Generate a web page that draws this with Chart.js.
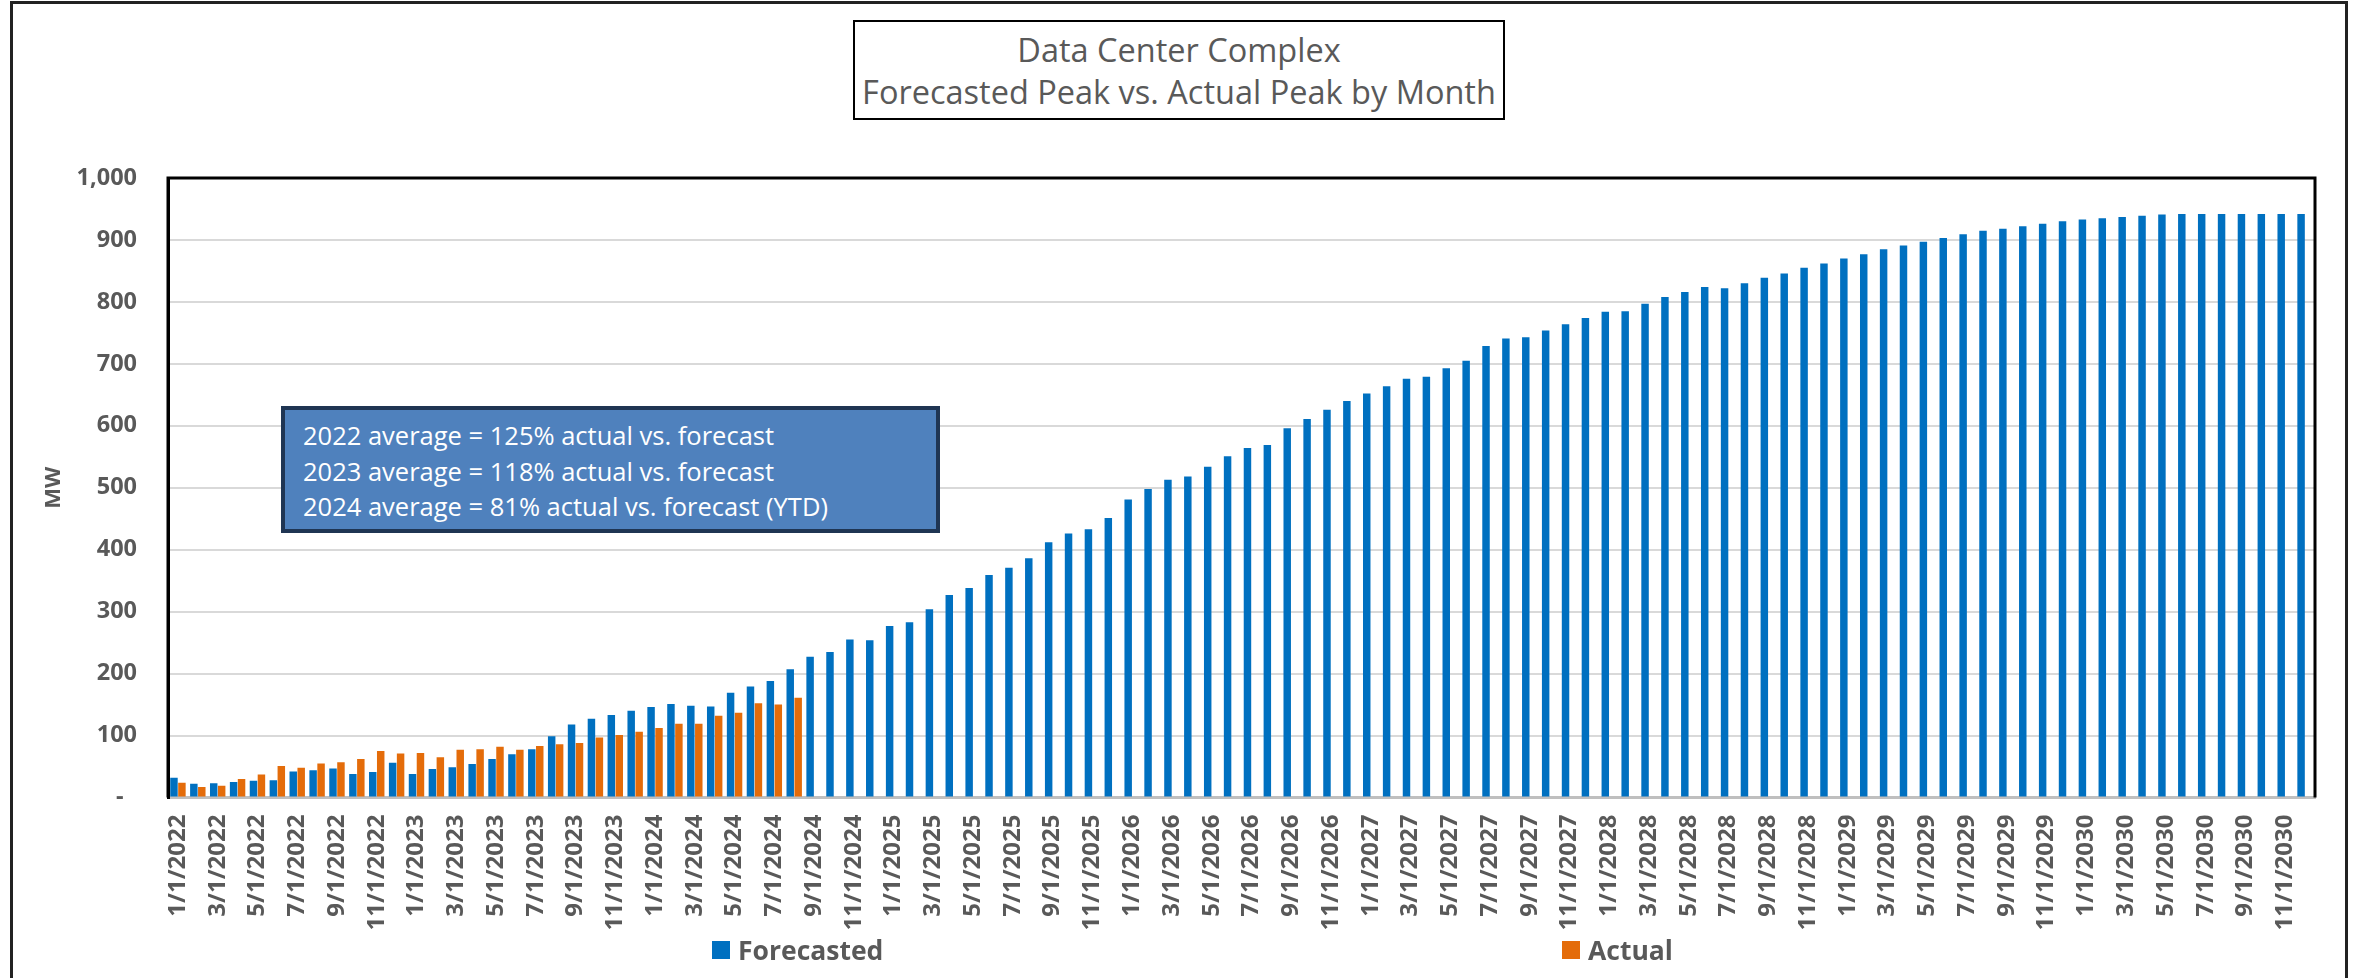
<!DOCTYPE html>
<html>
<head>
<meta charset="utf-8">
<script src="https://cdn.jsdelivr.net/npm/chart.js@4.4.1/dist/chart.umd.min.js"></script>
<style>
  html, body { margin: 0; padding: 0; background: #fff; }
  body { width: 2359px; height: 978px; position: relative; overflow: hidden; font-family: "Open Sans", sans-serif; }
  #frame { position: absolute; left: 10px; top: 1px; width: 2338px; height: 1100px; border: 3px solid #222; box-sizing: border-box; }
  #chartCanvas { position: absolute; left: 0; top: 0; }
  #title { position: absolute; left: 853px; top: 20px; width: 652px; height: 100px; border: 2px solid #000; box-sizing: border-box;
           padding-top: 7px; text-align: center; color: #595959; font-size: 32.5px; line-height: 42px; background: #fff; }
  #note { position: absolute; left: 281px; top: 406px; width: 659px; height: 127px; background: #4F81BD; border: 4px solid #1F3553;
          box-sizing: border-box; padding: 8px 0 0 18px; color: #fff; font-size: 25.5px; line-height: 35.5px; }
  .lg { position: absolute; top: 931px; height: 38px; display: flex; align-items: center; color: #595959; font-weight: bold; font-size: 26.5px; }
  .lg span.box { display: inline-block; width: 18px; height: 18px; margin-right: 8px; }
</style>
</head>
<body>
<div id="frame"></div>
<canvas id="chartCanvas" width="2359" height="978"></canvas>
<div id="title"></div>
<div id="note"></div>
<div id="legend"></div>
<script>
// months 1/1/2022 .. 12/1/2030
var months = [];
for (var y = 2022; y <= 2030; y++) {
  for (var m = 1; m <= 12; m++) months.push(m + "/1/" + y);
}

var forecasted = [
  32, 22, 23, 25, 27, 28, 42, 44, 47, 38, 41, 56,
  38, 46, 49, 54, 62, 70, 78, 99, 118, 127, 133, 140,
  146, 151, 148, 147, 169, 179, 188, 207, 227, 235, 255, 254,
  277, 283, 304, 327, 338, 359, 371, 386, 412, 426, 433, 451,
  481, 498, 513, 518, 534, 551, 564, 569, 596, 611, 626, 640,
  652, 664, 676, 679, 693, 705, 729, 741, 743, 754, 764, 774,
  784, 785, 797, 808, 816, 824, 822, 830, 839, 846, 855, 862,
  870, 877, 885, 891, 897, 903, 909, 915, 918, 922, 926, 930,
  933, 935, 937, 939, 941, 942, 942, 942, 942, 942, 942, 942
];

var actual = [
  24, 17, 19, 30, 37, 51, 48, 55, 57, 62, 75, 71,
  72, 65, 77, 78, 82, 77, 83, 86, 88, 97, 101, 106,
  112, 119, 119, 132, 137, 152, 150, 161
];

var titleLines = ["Data Center Complex", "Forecasted Peak vs. Actual Peak by Month"];
var noteLines = [
  "2022 average = 125% actual vs. forecast",
  "2023 average = 118% actual vs. forecast",
  "2024 average = 81% actual vs. forecast (YTD)"
];

document.getElementById("title").innerHTML = titleLines.join("<br>");
document.getElementById("note").innerHTML = noteLines.join("<br>");

var axisGray = "#595959";

// black outline round the plot area (left / top / right)
var plotBorder = {
  id: "plotBorder",
  afterDatasetsDraw: function (chart) {
    var a = chart.chartArea;
    var ctx = chart.ctx;
    ctx.save();
    ctx.strokeStyle = "#000";
    ctx.lineWidth = 3;
    ctx.beginPath();
    ctx.moveTo(a.left, a.bottom);
    ctx.lineTo(a.left, a.top);
    ctx.lineTo(a.right, a.top);
    ctx.lineTo(a.right, a.bottom);
    ctx.stroke();
    ctx.restore();
  }
};

var ctx = document.getElementById("chartCanvas").getContext("2d");
var myChart = new Chart(ctx, {
  type: "bar",
  data: {
    labels: months,
    datasets: [
      {
        label: "Forecasted",
        data: forecasted,
        backgroundColor: "#0070C0",
        categoryPercentage: 0.8,
        barPercentage: 0.94,
      },
      {
        label: "Actual",
        data: actual,
        backgroundColor: "#E46C0A",
        categoryPercentage: 0.8,
        barPercentage: 0.94,
      },
    ],
  },
  options: {
    responsive: false,
    devicePixelRatio: 1,
    animation: false,
    layout: {
      padding: { left: 14, top: 178, right: 44, bottom: 0 },
    },
    plugins: {
      legend: { display: false },
      tooltip: { enabled: false },
    },
    scales: {
      x: {
        grid: { display: false, drawTicks: false },
        border: { color: "#BFBFBF", width: 3 },
        ticks: {
          autoSkip: false,
          maxRotation: 90,
          minRotation: 90,
          padding: 17,
          color: axisGray,
          font: { family: "Open Sans", weight: "bold", size: 24 },
          callback: function (val, i) {
            return i % 2 ? "" : months[i];
          },
        },
        afterFit: function (scale) {
          scale.height = 180.5;
        },
      },
      y: {
        min: 0,
        max: 1000,
        grid: { color: "#D9D9D9", lineWidth: 2, drawTicks: false },
        border: { color: "#000", width: 3 },
        ticks: {
          stepSize: 100,
          padding: 31,
          color: axisGray,
          font: { family: "Open Sans", weight: "bold", size: 23.5 },
          callback: function (val) {
            return val === 0 ? "-\u2007" : val.toLocaleString("en-US");
          },
        },
        title: {
          display: true,
          text: "MW",
          color: axisGray,
          padding: { top: 27, bottom: 0 },
          font: { family: "Open Sans", weight: "bold", size: 22 },
        },
        afterFit: function (scale) {
          scale.width = 154;
        },
      },
    },
  },
  plugins: [plotBorder],
});

// legend below the axis, built from the datasets
var legendLeft = [712, 1562];
var legendEl = document.getElementById("legend");
myChart.data.datasets.forEach(function (ds, i) {
  var item = document.createElement("div");
  item.className = "lg";
  item.style.left = legendLeft[i] + "px";
  item.innerHTML = '<span class="box" style="background:' + ds.backgroundColor + '"></span>' + ds.label;
  legendEl.appendChild(item);
});
</script>
</body>
</html>
